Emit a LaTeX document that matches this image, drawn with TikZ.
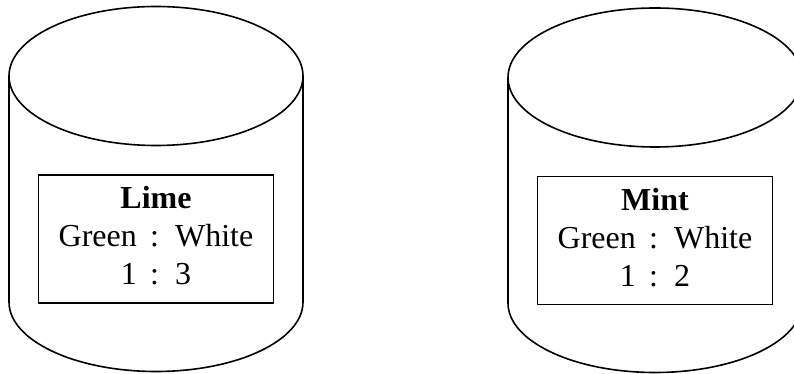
\documentclass[tikz,border=0pt]{standalone}
\usepackage{fontspec}
\setmainfont{Liberation Serif}
\tikzset{
  jarline/.style={line width=1.6pt},
  tagbox/.style={draw, line width=1.6pt, minimum width=235pt, minimum height=128pt},
  tagtext/.style={align=center, font=\fontsize{32}{38}\selectfont}
}
\begin{document}
\begin{tikzpicture}[x=1pt,y=1pt]
			\useasboundingbox (0,0) rectangle (794,374);
			% Lime jar
			\draw[jarline] (156,298) ellipse (147 and 69.5);
			\draw[jarline] (9,298) -- (9,72) arc (180:360:147 and 69.5) -- (303,298);
			\node[tagbox] (limebox) at (156,135) {};
			\node[tagtext] (limetext) at (156,138.5) {\textbf{Lime}\\Green \,:\, White\\1 \,:\, 3};
			% Mint jar
			\draw[jarline] (655,296.5) ellipse (147 and 69.5);
			\draw[jarline] (508,296.5) -- (508,71) arc (180:360:147 and 69.5) -- (802,296.5);
			\node[tagbox] (mintbox) at (655,133.5) {};
			\node[tagtext] (minttext) at (655,136.5) {\textbf{Mint}\\Green \,:\, White\\1 \,:\, 2};
		\end{tikzpicture}
\end{document}
